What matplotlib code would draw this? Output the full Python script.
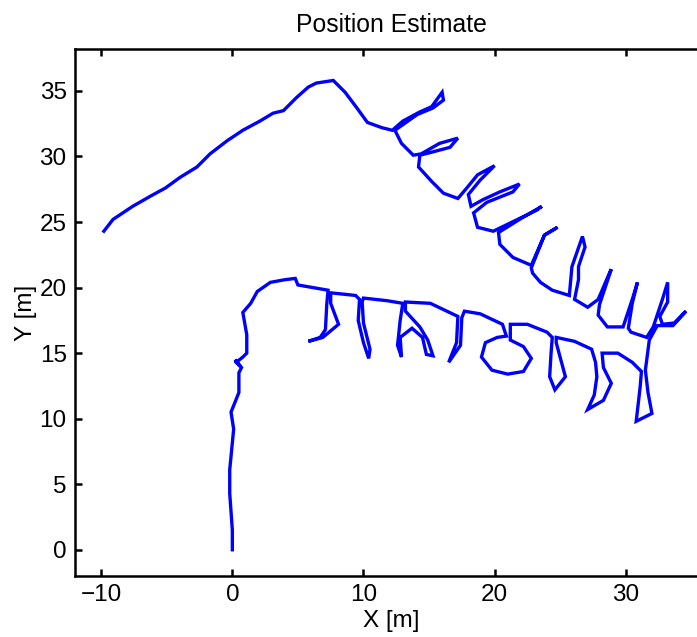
import matplotlib
matplotlib.use('Agg')
import matplotlib.pyplot as plt
import numpy as np

# upper track: starts at the far left, over the hill, then the zigzag row to the right end
upper_x = [-9.8, -9.1, -7.6, -6.2, -5.1, -4.0, -2.7, -1.7, -0.4, 0.8, 2.1, 3.1, 3.9, 4.9, 5.8, 6.4,
           7.7, 8.6, 9.5, 10.3, 11.4, 12.2,
           13.0, 14.3, 15.2, 16.0, 16.1, 15.3, 14.1, 12.4, 12.9, 13.8,
           14.4, 15.8, 17.2, 16.6, 15.1, 14.3, 14.2, 15.2, 16.1, 17.2,
           17.8, 18.7, 20.0, 18.9, 18.0, 18.2,
           19.1, 20.4, 21.9, 21.4, 19.4, 18.4, 18.7, 19.9,
           23.2, 23.6, 21.9, 20.3, 20.4, 21.4, 22.8,
           23.8, 24.8, 23.8, 22.8, 22.9, 23.5, 24.4, 25.7,
           25.9, 26.7, 26.9, 26.4, 26.4, 26.1, 27.1,
           27.9, 28.8, 28.9, 28.0, 27.9, 28.6, 29.8,
           30.5, 30.9, 30.5, 30.2, 30.4, 31.6, 32.1,
           32.8, 33.2, 33.2, 32.6, 32.8, 33.7, 34.3, 34.6, 33.6, 32.4, 31.8]
upper_y = [24.3, 25.2, 26.2, 27.0, 27.6, 28.4, 29.2, 30.2, 31.2, 32.0, 32.7, 33.3, 33.5, 34.5, 35.3, 35.6,
           35.8, 34.9, 33.7, 32.6, 32.2, 32.0,
           32.7, 33.4, 33.8, 34.9, 34.3, 33.7, 33.2, 32.0, 31.0, 30.1,
           30.2, 31.0, 31.4, 30.7, 30.3, 30.1, 29.2, 28.1, 27.2, 26.8,
           27.5, 28.6, 29.3, 28.2, 27.1, 26.2,
           26.7, 27.3, 27.9, 27.3, 26.5, 25.7, 24.6, 24.3,
           25.9, 26.2, 25.2, 24.2, 23.3, 22.3, 21.7,
           24.0, 24.6, 24.0, 21.5, 21.1, 20.4, 19.8, 19.4,
           21.6, 23.9, 23.1, 21.6, 20.6, 19.1, 18.5,
           19.1, 21.2, 21.4, 18.7, 17.9, 17.0, 17.0,
           19.1, 20.4, 18.8, 16.9, 16.6, 16.2, 17.0,
           19.1, 20.4, 18.9, 17.8, 17.2, 17.3, 17.9, 18.2, 17.1, 17.1, 16.0]

# lower track: starts at the origin, up the left side, then the looped row to the right
lower_x = [0.0, 0.0, -0.2, -0.2, 0.1, -0.1, 0.5, 0.5, 0.7, 0.2, 0.6, 0.3, 0.8, 1.1, 1.1, 0.8,
           1.4, 1.9, 2.9, 4.0, 4.8, 5.0, 7.3,
           7.2, 7.1, 6.7, 5.8, 6.9, 8.1, 7.5, 7.5, 9.4, 9.7,
           9.6, 10.0, 10.4, 10.5, 10.0, 9.9, 10.0, 11.8, 13.0,
           12.8, 12.6, 12.9, 12.8, 13.7, 14.5, 14.8, 15.3, 14.9, 14.3, 13.2, 13.2, 15.1, 17.2,
           17.1, 16.5, 17.4, 17.5, 17.7, 18.9, 20.6, 20.9,
           20.2, 19.3, 19.0, 19.8, 21.0, 22.2, 22.8, 22.2, 21.2, 21.2, 22.5, 24.0, 24.4,
           24.3, 24.2, 24.6, 25.4, 24.7, 24.7, 26.1, 27.4,
           27.7, 27.8, 27.6, 27.1, 28.3, 28.9, 28.3, 28.2, 29.4, 30.5,
           31.2, 31.1, 30.8, 32.0, 31.7, 31.5, 31.8]
lower_y = [0.0, 1.5, 4.3, 6.1, 9.2, 10.5, 12.0, 13.5, 13.9, 14.5, 14.0, 14.3, 14.7, 15.0, 16.4, 18.1,
           18.8, 19.7, 20.4, 20.6, 20.7, 20.2, 19.8,
           18.7, 16.8, 16.2, 15.9, 16.2, 17.2, 18.8, 19.6, 19.4, 19.1,
           17.5, 15.8, 14.6, 15.3, 17.3, 18.9, 19.2, 19.0, 18.8,
           17.5, 15.6, 14.7, 16.2, 16.9, 16.2, 14.9, 14.8, 16.0, 17.0, 18.2, 18.9, 18.8, 17.8,
           15.8, 14.3, 15.6, 17.7, 18.2, 18.0, 17.2, 16.3,
           16.2, 15.8, 14.7, 13.7, 13.4, 13.6, 14.6, 15.5, 16.0, 17.2, 17.2, 16.6, 16.2,
           14.9, 13.2, 12.2, 13.2, 15.8, 16.2, 15.9, 15.3,
           14.3, 13.2, 11.8, 10.7, 11.4, 12.7, 13.9, 15.0, 15.0, 14.3,
           13.6, 12.4, 9.8, 10.4, 12.0, 13.7, 16.0]

xticks = [-10, 0, 10, 20, 30]
yticks = [0, 5, 10, 15, 20, 25, 30, 35]

plt.rcParams['font.family'] = ['Liberation Sans', 'DejaVu Sans']
plt.rcParams['font.size'] = 17.5

fig = plt.figure(figsize=(6.97, 6.37), dpi=100)
ax = fig.add_axes([75 / 697, 1 - 576 / 637, (707 - 75) / 697, (576 - 49) / 637])

path_x = np.array(upper_x + lower_x[::-1])
path_y = np.array(upper_y + lower_y[::-1])
ax.plot(path_x, path_y, color='#0000ff', linewidth=2.4, solid_joinstyle='miter')

ax.set_xlim(-12.0, 36.2)
ax.set_ylim(-2.0, 38.2)
ax.set_xticks(xticks)
ax.set_yticks(yticks)
ax.tick_params(direction='in', length=5, width=1.8, top=True, right=True, pad=6)
for sp in ax.spines.values():
    sp.set_linewidth(1.8)

ax.set_title('Position Estimate', fontsize=17.8, pad=12)
ax.set_xlabel('X [m]', labelpad=3)
ax.set_ylabel('Y [m]', labelpad=2)

fig.savefig('out.png', dpi=100)
